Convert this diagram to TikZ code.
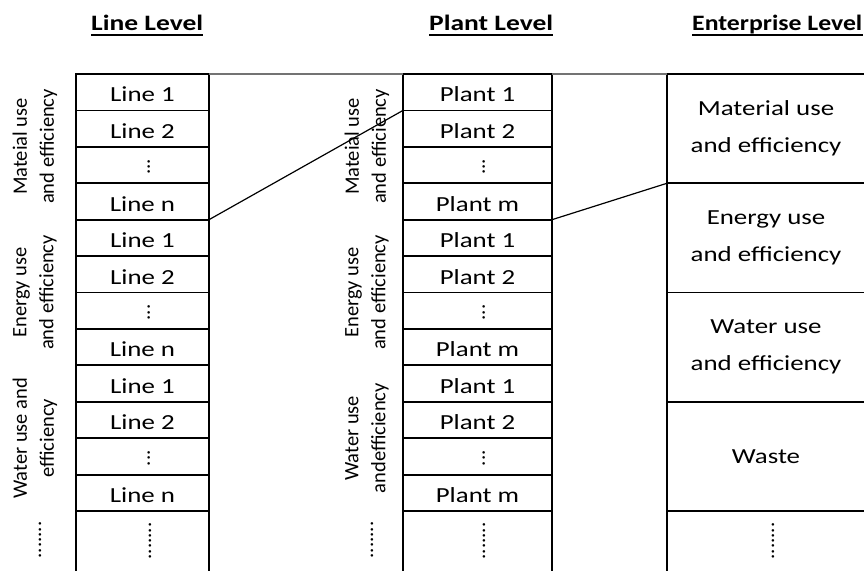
\documentclass[tikz,border=0pt]{standalone}
\usepackage{fontspec}
\setmainfont{Carlito}
\newfontfamily\widefont{Carlito}[FakeStretch=1.25]
\newfontfamily\midfont{Carlito}[FakeStretch=1.17]
\usetikzlibrary{calc}
\newcommand\cellfont{\widefont\fontsize{21.5}{26}\selectfont}
\newcommand\entfont{\widefont\fontsize{21.5}{37}\selectfont}
\newcommand\sidefont{\normalfont\fontsize{20.5}{27}\selectfont}
\newcommand\headfont{\widefont\bfseries\fontsize{22}{26}\selectfont}
\newcommand\narrowheadfont{\midfont\bfseries\fontsize{22}{26}\selectfont}
\newcommand\dotsfont{\normalfont\fontsize{21}{26}\selectfont}
% three stacked dots inside a table cell
\newcommand\vdotcell[1]{\rotatebox{90}{\dotsfont\rule{0pt}{15pt}#1}}

\begin{document}
\begin{tikzpicture}[x=1pt,y=-1pt,
  border/.style={draw=black,line width=1.8pt},
  cellbox/.style={border,rectangle,inner sep=0pt,outer sep=0pt,
    minimum height=36.42pt,text height=19.5pt,text depth=0pt,font=\cellfont},
  linecell/.style={cellbox,minimum width=133pt},
  plantcell/.style={cellbox,minimum width=149pt},
  entcell/.style={border,rectangle,inner sep=0pt,outer sep=0pt,
    minimum width=198pt,minimum height=109.26pt,align=center,font=\entfont},
  sidelabel/.style={rotate=90,align=center,inner sep=0pt,font=\sidefont},
  sidedots/.style={rotate=90,inner sep=0pt,font=\dotsfont},
  heading/.style={anchor=base west,inner sep=0pt,font=\headfont},
  underbar/.style={line width=2pt},
  link/.style={line width=1.2pt},
  topedge/.style={draw=black!55,line width=1.1pt},
]
\useasboundingbox (0,0) rectangle (864,571);

% column headings
\node[heading] (hl) at (91,30.5) {Line Level};
\node[heading] (hp) at (429,30.5) {Plant Level};
\node[heading,font=\narrowheadfont] (he) at (692,30.5) {Enterprise Level};
\draw[underbar] ($(hl.base west)+(0,4.5)$) -- ($(hl.base east)+(0,4.5)$);
\draw[underbar] ($(hp.base west)+(0,4.5)$) -- ($(hp.base east)+(0,4.5)$);
\draw[underbar] ($(he.base west)+(0,4.5)$) -- ($(he.base east)+(0,4.5)$);

% line level column
\foreach \txt [count=\i] in {Line 1,Line 2,\vdotcell{...},Line n,
                             Line 1,Line 2,\vdotcell{...},Line n,
                             Line 1,Line 2,\vdotcell{...},Line n}
  \node[linecell] (l\i) at (142.5,{74+36.42*(\i-0.5)}) {\txt};

% plant level column
\foreach \txt [count=\i] in {Plant 1,Plant 2,\vdotcell{...},Plant m,
                             Plant 1,Plant 2,\vdotcell{...},Plant m,
                             Plant 1,Plant 2,\vdotcell{...},Plant m}
  \node[plantcell] (p\i) at (477.5,{74+36.42*(\i-0.5)}) {\txt};

% enterprise level column
\node[entcell] (e1) at (766,128.63) {Material use\\and efficiency};
\node[entcell] (e2) at (766,237.89) {Energy use\\and efficiency};
\node[entcell] (e3) at (766,347.15) {Water use\\and efficiency};
\node[entcell] (e4) at (766,456.41) {Waste};

% group labels beside the columns
\node[sidelabel] (sl1) at (35,146.5) {Mateial use\\and efficiency};
\node[sidelabel] (sl2) at (35,292.5) {Energy use\\and efficiency};
\node[sidelabel] (sl3) at (35,438.2) {Water use and\\efficiency};
\node[sidelabel] (sp1) at (367,146.5) {Mateial use\\and efficiency};
\node[sidelabel] (sp2) at (367,292.5) {Energy use\\and efficiency};
\node[sidelabel] (sp3) at (367,438.2) {Water use\\andefficiency};

% open last row
\coordinate (bot) at (0,571);
\draw[border] (l12.south west) -- (l12.south west |- bot);
\draw[border] (l12.south east) -- (l12.south east |- bot);
\draw[border] (p12.south west) -- (p12.south west |- bot);
\draw[border] (p12.south east) -- (p12.south east |- bot);
\draw[border] (e4.south west) -- (e4.south west |- bot);
\node[sidedots] (sld) at (40,540) {.......};
\node[sidedots] (spd) at (372,540) {.......};
\node[sidedots] (ld) at (150,541) {.......};
\node[sidedots] (pd) at (484,541) {.......};
\node[sidedots] (ed) at (773,541) {.......};

% connectors between levels
\draw[topedge] (l1.north east) -- (p1.north west);
\draw[topedge] (p1.north east) -- (e1.north west);
\draw[link] (l4.south east) -- (p1.south west);
\draw[link] (p4.south east) -- (e1.south west);
\end{tikzpicture}
\end{document}
